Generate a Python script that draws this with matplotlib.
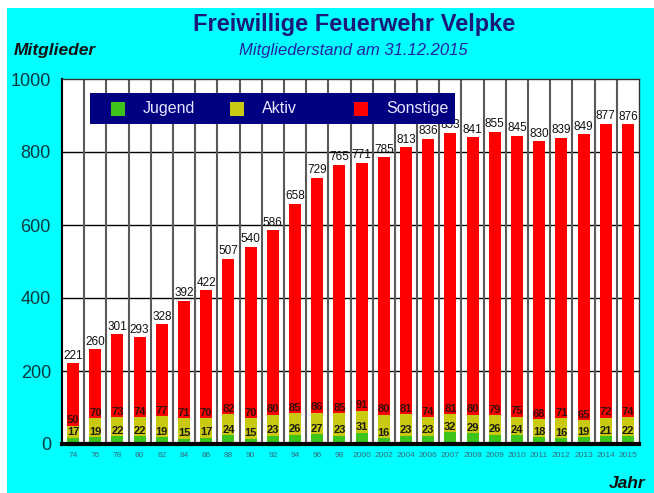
import matplotlib
matplotlib.use("Agg")
import matplotlib.pyplot as plt
from matplotlib.patches import Rectangle
import numpy as np

plt.rcParams['font.family'] = ['Liberation Sans', 'DejaVu Sans']

years = ["74", "76", "78", "80", "82", "84", "86", "88", "90", "92", "94", "96", "98",
         "2000", "2002", "2004", "2006", "2007", "2008", "2009", "2010", "2011", "2012",
         "2013", "2014", "2015"]
totals = [221, 260, 301, 293, 328, 392, 422, 507, 540, 586, 658, 729, 765,
          771, 785, 813, 836, 853, 841, 855, 845, 830, 839, 849, 877, 876]
jugend_aktiv = [50, 70, 73, 74, 77, 71, 70, 82, 70, 80, 85, 86, 85,
                91, 80, 81, 74, 81, 80, 79, 75, 68, 71, 65, 72, 74]
jugend = [17, 19, 22, 22, 19, 15, 17, 24, 15, 23, 26, 27, 23,
          31, 16, 23, 23, 32, 29, 26, 24, 18, 16, 19, 21, 22]
series_names = ["Jugend", "Aktiv", "Sonstige"]
yticks = [0, 200, 400, 600, 800, 1000]

c_green = "#3cc41a"
c_yellow = "#c9c912"
c_red = "#ff0000"
cyan = "#00ffff"

jug = np.array(jugend)
akt = np.array(jugend_aktiv) - jug
son = np.array(totals) - np.array(jugend_aktiv)
x = np.arange(len(years))

fig = plt.figure(figsize=(6.54, 4.93), dpi=100, facecolor="white")
fig.patches.append(Rectangle((7/654, 0), 1 - 7/654, 1 - 8/493, transform=fig.transFigure,
                             facecolor=cyan, edgecolor="none", zorder=-10))

ax = fig.add_axes([62/654, 1 - 444/493, 577/654, 365/493])
ax.set_facecolor("white")
ax.set_xlim(-0.5, len(years) - 0.5)
ax.set_ylim(0, 1000)

# grid
for yv in yticks[1:-1]:
    ax.axhline(yv, color="black", lw=1.0, zorder=1)
for b in np.arange(0.5, len(years) - 0.5, 1):
    ax.axvline(b, color="#5a5a5a", lw=1.5, zorder=1)

w = 0.54
ax.bar(x, jug, w, color=c_green, zorder=2)
ax.bar(x, akt, w, bottom=jug, color=c_yellow, zorder=2)
ax.bar(x, son, w, bottom=jug + akt, color=c_red, zorder=2)

for i in range(len(years)):
    ax.text(x[i], totals[i] + 4, str(totals[i]), ha="center", va="bottom",
            fontsize=8.5, color="#111111", zorder=5)
    ax.text(x[i], jugend_aktiv[i] + 1, str(jugend_aktiv[i]), ha="center", va="bottom",
            fontsize=8, fontweight="bold", color="#3a0c0c", zorder=5)
    ax.text(x[i], jugend[i] + 1, str(jugend[i]), ha="center", va="bottom",
            fontsize=8, fontweight="bold", color="#1c1c0c", zorder=5)

for s in ["top", "right"]:
    ax.spines[s].set_color("#333333")
    ax.spines[s].set_linewidth(1.0)
ax.spines["left"].set_linewidth(1.5)
ax.spines["bottom"].set_linewidth(3)
ax.spines["bottom"].set_color("black")

ax.set_yticks(yticks)
ax.set_yticklabels([str(v) for v in yticks], fontsize=13, color="#0a3a40")
ax.set_xticks(x)
ax.set_xticklabels(years, fontsize=6, color="#3a6a7a")
ax.tick_params(axis="both", length=0)
ax.tick_params(axis="y", pad=8)
ax.tick_params(axis="x", pad=6)

# legend box
lx0, lx1 = (90 - 62) / 577, (455 - 62) / 577
ly0, ly1 = (444 - 124) / 365, (444 - 93) / 365
ax.add_patch(Rectangle((lx0, ly0), lx1 - lx0, ly1 - ly0, transform=ax.transAxes,
                       facecolor="#000080", edgecolor="none", zorder=6))
leg_items = [(111, 143, c_green), (230, 262, c_yellow), (354, 386, c_red)]
for (sx, tx, col), name in zip(leg_items, series_names):
    ax.add_patch(Rectangle(((sx - 62) / 577, (444 - 116) / 365), 14 / 577, 14 / 365,
                           transform=ax.transAxes, facecolor=col, edgecolor="none", zorder=7))
    ax.text((tx - 62) / 577, (444 - 108.5) / 365, name, transform=ax.transAxes,
            ha="left", va="center", fontsize=11.5, color="#e6e6ff", zorder=7)

fig.text(354/654, 1 - 25/493, "Freiwillige Feuerwehr Velpke", ha="center", va="center",
         fontsize=17, fontweight="bold", color="#1a1a7a")
fig.text(353/654, 1 - 51/493, "Mitgliederstand am 31.12.2015", ha="center", va="center",
         fontsize=12, fontstyle="italic", color="#2424a0")
fig.text(14/654, 1 - 51/493, "Mitglieder", ha="left", va="center",
         fontsize=12.5, fontweight="bold", fontstyle="italic", color="#111111")
fig.text(645/654, 1 - 484/493, "Jahr", ha="right", va="center",
         fontsize=12.5, fontweight="bold", fontstyle="italic", color="#111111")

fig.savefig("out.png", dpi=100, facecolor=fig.get_facecolor())
